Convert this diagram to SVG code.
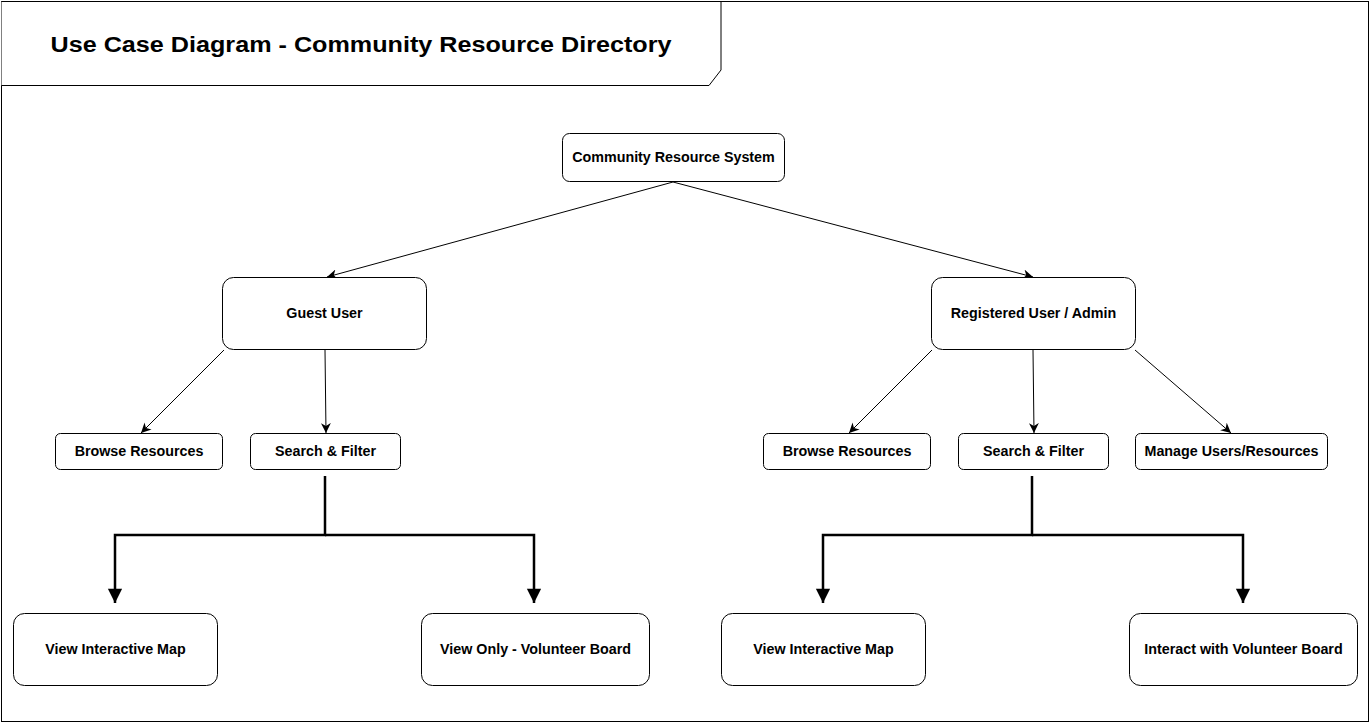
<svg xmlns="http://www.w3.org/2000/svg" width="1371" height="724" viewBox="0 0 1371 724">
<style>
.n{fill:#fff;stroke:#000;stroke-width:1}
.t{font-family:"Liberation Sans",Arial,sans-serif;font-weight:bold;font-size:14.3px;fill:#000;text-anchor:middle;dominant-baseline:central}
.c{fill:none;stroke:#000;stroke-width:1}
.k{fill:none;stroke:#000;stroke-width:2.5}
</style>
<defs>
<marker id="a" viewBox="0 0 10 10" refX="10" refY="5" markerWidth="10" markerHeight="10" markerUnits="userSpaceOnUse" orient="auto"><path d="M0,0 L10,5 L0,10 L3,5 Z" fill="#000"/></marker>
<marker id="b" viewBox="0 0 16 18" refX="16" refY="8" markerWidth="18" markerHeight="16" markerUnits="userSpaceOnUse" orient="auto"><path d="M0,0 L16,8 L0,16 Z" fill="#000"/></marker>
</defs>
<rect x="1.5" y="1.5" width="1367" height="720" fill="#fff" stroke="#000" stroke-width="1"/>
<g id="title">
<path d="M1.5,1.5 H721 V70 L709,85.5 H1.5" fill="#fff" stroke="#000" stroke-width="1"/>
<text x="361" y="44" font-family="'Liberation Sans',Arial,sans-serif" font-weight="bold" font-size="22" text-anchor="middle" dominant-baseline="central" textLength="621" lengthAdjust="spacingAndGlyphs">Use Case Diagram - Community Resource Directory</text>
</g>
<g id="connectors">
<path class="c" d="M673,182 L327,277" marker-end="url(#a)"/>
<path class="c" d="M673,182 L1033,277" marker-end="url(#a)"/>
<path class="c" d="M224,350 L141,433" marker-end="url(#a)"/>
<path class="c" d="M325,350 L326,433" marker-end="url(#a)"/>
<path class="c" d="M932,350 L849,433" marker-end="url(#a)"/>
<path class="c" d="M1033,350 L1034,433" marker-end="url(#a)"/>
<path class="c" d="M1135,350 L1231,433" marker-end="url(#a)"/>
<path class="k" d="M325,476 V535 H115 V603" marker-end="url(#b)"/>
<path class="k" d="M325,535 H534 V603" marker-end="url(#b)"/>
<path class="k" d="M1032,476 V535 H823 V603" marker-end="url(#b)"/>
<path class="k" d="M1032,535 H1243 V603" marker-end="url(#b)"/>
</g>
<g id="n-system"><rect class="n" x="562.5" y="133.5" width="222" height="48" rx="7"/><text class="t" x="673.5" y="156.5">Community Resource System</text></g>
<g id="n-guest"><rect class="n" x="222.5" y="277.5" width="204" height="72" rx="11"/><text class="t" x="324.5" y="312.5">Guest User</text></g>
<g id="n-registered"><rect class="n" x="931.5" y="277.5" width="204" height="72" rx="11"/><text class="t" x="1033.5" y="312.5">Registered User / Admin</text></g>
<g id="n-browse-l"><rect class="n" x="55.5" y="433.5" width="167" height="36" rx="5"/><text class="t" x="139" y="450.5">Browse Resources</text></g>
<g id="n-search-l"><rect class="n" x="250.5" y="433.5" width="150" height="36" rx="5"/><text class="t" x="325.5" y="450.5">Search &amp; Filter</text></g>
<g id="n-browse-r"><rect class="n" x="763.5" y="433.5" width="167" height="36" rx="5"/><text class="t" x="847" y="450.5">Browse Resources</text></g>
<g id="n-search-r"><rect class="n" x="958.5" y="433.5" width="150" height="36" rx="5"/><text class="t" x="1033.5" y="450.5">Search &amp; Filter</text></g>
<g id="n-manage"><rect class="n" x="1135.5" y="433.5" width="192" height="36" rx="5"/><text class="t" x="1231.5" y="450.5">Manage Users/Resources</text></g>
<g id="n-map-l"><rect class="n" x="13.5" y="613.5" width="204" height="72" rx="11"/><text class="t" x="115.5" y="648.5">View Interactive Map</text></g>
<g id="n-viewonly"><rect class="n" x="421.5" y="613.5" width="228" height="72" rx="11"/><text class="t" x="535.5" y="648.5">View Only - Volunteer Board</text></g>
<g id="n-map-r"><rect class="n" x="721.5" y="613.5" width="204" height="72" rx="11"/><text class="t" x="823.5" y="648.5">View Interactive Map</text></g>
<g id="n-interact"><rect class="n" x="1129.5" y="613.5" width="228" height="72" rx="11"/><text class="t" x="1243.5" y="648.5">Interact with Volunteer Board</text></g>
</svg>
